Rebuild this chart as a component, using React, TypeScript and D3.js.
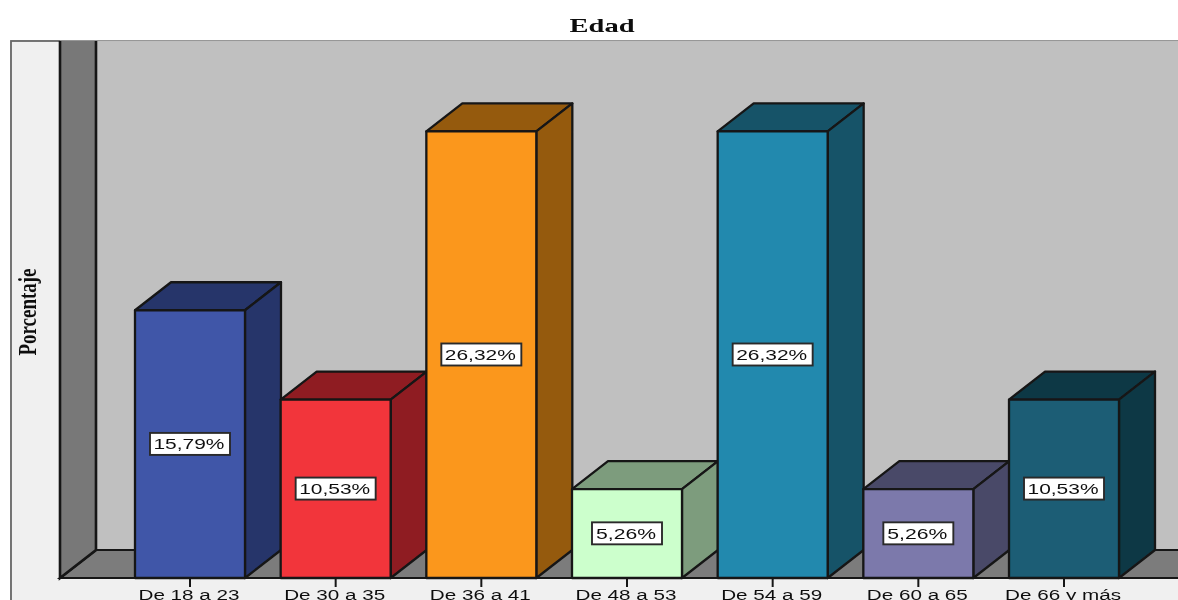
import React from "react";
import * as d3 from "d3";

const categories = ["De 18 a 23", "De 30 a 35", "De 36 a 41", "De 48 a 53", "De 54 a 59", "De 60 a 65", "De 66 y más"];
const percentages = [15.79, 10.53, 26.32, 5.26, 26.32, 5.26, 10.53];
const frontColors = ["#3f57a8", "#f2343b", "#fb971e", "#ccffcc", "#2389ae", "#7b79ab", "#1a5d75"];
const sideColors = ["#25356a", "#8f1d22", "#955a10", "#7d9c7d", "#145368", "#4a4968", "#103845"];
const labelText = ["15,79%", "10,53%", "26,32%", "5,26%", "26,32%", "5,26%", "10,53%"];

const W = 1178, H = 600;
const baseY = 578;
const topY = 41;
const dx = 36, dy = 28;

const x = d3.scaleBand<string>().domain(categories).range([135, 1119]).paddingInner(0.2449).paddingOuter(0);
const y = d3.scaleLinear().domain([0, 26.32]).range([baseY, 131]);
const pts = (p: number[][]) => p.map((q) => q.join(",")).join(" ");
const stroke = "#161616";

export default function App() {
  return (
    <svg width={W} height={H} viewBox={`0 0 ${W} ${H}`} style={{ position: "absolute", left: 0, top: 0, background: "#fff" }}>
      <defs>
        <filter id="soft" x="-2%" y="-2%" width="104%" height="104%">
          <feGaussianBlur stdDeviation="0.5" />
        </filter>
      </defs>
      <g filter="url(#soft)">
        <rect x={11} y={topY} width={W} height={H} fill="#f0f0f0" stroke="#666" strokeWidth={1.8} />
        <rect x={96} y={topY} width={W} height={baseY - dy - topY} fill="#c0c0c0" />
        <line x1={60} y1={topY} x2={W} y2={topY} stroke="#bbb" strokeWidth={1} />
        <polygon points={pts([[60, baseY], [96, baseY - dy], [W + 3, baseY - dy], [W + 3, baseY]])} fill="#7b7b7b" stroke={stroke} strokeWidth={2.2} />
        <polygon points={pts([[60, topY], [96, topY], [96, baseY - dy], [60, baseY]])} fill="#787878" stroke="none" />
        <path d={`M60,${topY} V${baseY} L96,${baseY - dy} V${topY}`} fill="none" stroke={stroke} strokeWidth={2.6} />
        {categories.map((c, i) => {
          const x0 = x(c)!;
          const x1 = x0 + x.bandwidth();
          const yt = y(percentages[i]) + 0.4;
          return (
            <g key={c} stroke={stroke} strokeWidth={2.3} strokeLinejoin="round">
              <polygon points={pts([[x0, yt], [x0 + dx, yt - dy], [x1 + dx, yt - dy], [x1, yt]])} fill={sideColors[i]} />
              <polygon points={pts([[x1, yt], [x1 + dx, yt - dy], [x1 + dx, baseY - dy], [x1, baseY]])} fill={sideColors[i]} />
              <rect x={x0} y={yt} width={x1 - x0} height={baseY - yt} fill={frontColors[i]} />
            </g>
          );
        })}
        {categories.map((c, i) => {
          const cx = x(c)! + x.bandwidth() / 2;
          const cy = (y(percentages[i]) + baseY) / 2;
          const short = labelText[i].length === 5;
          const bw = short ? 70 : 80;
          return (
            <g key={c + "l"}>
              <rect x={cx - bw / 2} y={cy - 11} width={bw} height={22} fill="#fff" stroke="#2a2a2a" strokeWidth={1.9} />
              <text x={cx - 1} y={cy + 5.5} textAnchor="middle" fontFamily="Liberation Sans" fontSize={15} fill="#111"
                textLength={short ? 60 : 71} lengthAdjust="spacingAndGlyphs">{labelText[i]}</text>
            </g>
          );
        })}
        {categories.map((c) => {
          const cx = x(c)! + x.bandwidth() / 2;
          return (
            <g key={c + "t"}>
              <line x1={cx} x2={cx} y1={baseY} y2={587} stroke={stroke} strokeWidth={2} />
              <text x={cx - 1} y={600} textAnchor="middle" fontFamily="Liberation Sans" fontSize={15.5} fill="#111"
                textLength={c.length > 10 ? 116 : 101} lengthAdjust="spacingAndGlyphs">{c}</text>
            </g>
          );
        })}
        <text x={602} y={32} textAnchor="middle" fontFamily="Liberation Serif" fontWeight="bold" fontSize={19} fill="#111"
          textLength={65} lengthAdjust="spacingAndGlyphs">Edad</text>
        <text transform="translate(36,312) rotate(-90)" textAnchor="middle" fontFamily="Liberation Serif" fontWeight="bold" fontSize={26} fill="#111"
          textLength={87} lengthAdjust="spacingAndGlyphs">Porcentaje</text>
      </g>
    </svg>
  );
}
